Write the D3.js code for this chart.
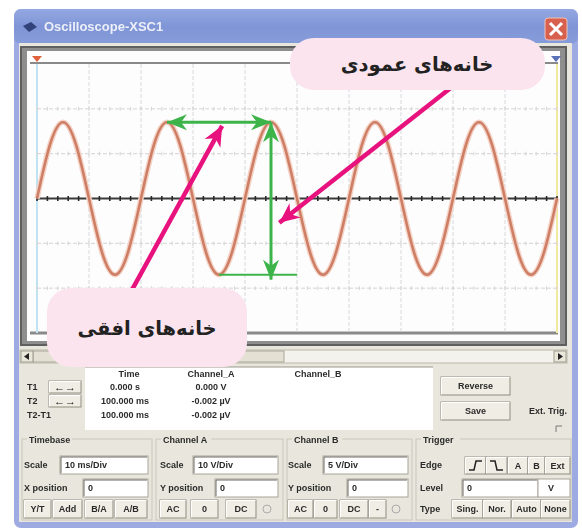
<!DOCTYPE html>
<html><head><meta charset="utf-8">
<script src="https://cdn.jsdelivr.net/npm/d3@7"></script>
<style>html,body{margin:0;padding:0;background:#fff;} svg{display:block;}</style>
</head><body>
<svg id="chart" width="582" height="531"></svg>
<script>
// ---- data ----
const timeMs = [0,2.5,5,7.5,10,12.5,15,17.5,20,22.5,25,27.5,30,32.5,35,37.5,40,42.5,45,47.5,50,52.5,55,57.5,60,62.5,65,67.5,70,72.5,75,77.5,80,82.5,85,87.5,90,92.5,95,97.5,100];
const channelA = [0,12,17,12,0,-12,-17,-12,0,12,17,12,0,-12,-17,-12,0,12,17,12,0,-12,-17,-12,0,12,17,12,0,-12,-17,-12,0,12,17,12,0,-12,-17,-12,0];
const timeTicks = [0,10,20,30,40,50,60,70,80,90,100];
const voltTicks = [-30,-20,-10,0,10,20,30];
const periodSpanMs = [25,45];       // green horizontal arrow (one period)
const periodSpanV = 17;
const ampSpanMs = 45;               // green vertical arrow (peak to trough)
const ampSpanV = [17,-17];
const troughLineMs = [35,50];
const troughLineV = -17;
const pointerHorizontal = [[17.5,-22],[35.6,16.2]];
const pointerVertical = [[81,26],[46.6,-5.4]];
const bubbleLabels = ["خانه\u200cهای عمودی","خانه\u200cهای افقی"];
const windowTitle = "Oscilloscope-XSC1";
const readoutHeaders = ["Time","Channel_A","Channel_B"];
const readoutRowLabels = ["T1","T2","T2-T1"];
const readoutTime = ["0.000 s","100.000 ms","100.000 ms"];
const readoutChA = ["0.000 V","-0.002 µV","-0.002 µV"];
const timebaseScale = "10 ms/Div", xPosition = "0";
const chAScale = "10 V/Div", chAYPos = "0";
const chBScale = "5 V/Div", chBYPos = "0";
const triggerLevel = "0", triggerUnit = "V";

// ---- drawing ----
const svg = d3.select("#chart");
const defs = svg.append("defs");
const tg = defs.append("linearGradient").attr("id","title").attr("x1",0).attr("y1",0).attr("x2",0).attr("y2",1);
tg.append("stop").attr("offset",0).attr("stop-color","#94a8e2");
tg.append("stop").attr("offset",0.5).attr("stop-color","#7f95d6");
tg.append("stop").attr("offset",1).attr("stop-color","#869cda");
defs.append("filter").attr("id","soft").append("feGaussianBlur").attr("stdDeviation",0.45);
function marker(id,color,len,half,notch){
  defs.append("marker").attr("id",id).attr("markerUnits","userSpaceOnUse")
    .attr("viewBox",`${-len-1} ${-half-1} ${len+2} ${2*half+2}`)
    .attr("refX",0).attr("refY",0).attr("markerWidth",len+2).attr("markerHeight",2*half+2)
    .attr("orient","auto-start-reverse")
    .append("path").attr("d",`M0,0 L${-len},${-half} L${-len+notch},0 L${-len},${half} Z`).attr("fill",color);
}
marker("gArrow","#3cb44a",20,8,6);
marker("pArrow","#e8127f",20,9,6);

svg.append("rect").attr("width",582).attr("height",531).attr("fill","#fff");

const ui = svg.append("g").attr("filter","url(#soft)");
// window
ui.append("rect").attr("x",14).attr("y",9).attr("width",564).attr("height",519).attr("rx",7).attr("fill","#9eaae2");
ui.append("rect").attr("x",14).attr("y",9).attr("width",564).attr("height",35).attr("rx",7).attr("fill","url(#title)");
ui.append("rect").attr("x",19).attr("y",43).attr("width",553).attr("height",479).attr("fill","#e9e7dd");
// title
ui.append("path").attr("d","M23,26 L31,22 L37,27 L29,32 Z").attr("fill","#33427a");
ui.append("text").attr("x",44).attr("y",31).attr("fill","#fff").attr("font-family","Liberation Sans, Arial").attr("font-size",13).attr("font-weight","bold").attr("opacity",0.85).text(windowTitle);
ui.append("rect").attr("x",545).attr("y",18).attr("width",22).attr("height",22).attr("rx",3).attr("fill","#d8614f").attr("stroke","#f1c3b8");
ui.append("path").attr("d","M550,23 L562,35 M562,23 L550,35").attr("stroke","#fff").attr("stroke-width",3);

// screen frame
ui.append("rect").attr("x",20).attr("y",46).attr("width",547).attr("height",300).attr("fill","#5f5f5f");
ui.append("rect").attr("x",22).attr("y",48).attr("width",543).attr("height",296).attr("fill","#8e8e8e");
ui.append("rect").attr("x",27).attr("y",51).attr("width",533).attr("height",290).attr("fill","#fdfdfd");

const x = d3.scaleLinear().domain([0,100]).range([37,557]);
const y = d3.scaleLinear().domain([-30,30]).range([333,64]);

// plot borders
ui.append("line").attr("x1",30).attr("x2",558).attr("y1",y(30)-1).attr("y2",y(30)-1).attr("stroke","#8a8a8a").attr("stroke-width",2);
ui.append("line").attr("x1",30).attr("x2",558).attr("y1",y(-30)).attr("y2",y(-30)).attr("stroke","#8a8a8a").attr("stroke-width",3);

// grid
const grid = ui.append("g");
grid.selectAll("line.v").data(timeTicks).join("line")
  .attr("x1",d=>x(d)).attr("x2",d=>x(d)).attr("y1",y(30)).attr("y2",y(-30))
  .attr("stroke",(d,i)=> i===0 ? "#bfe3f2" : (i===timeTicks.length-1 ? "#f1eaa0" : "#d6d8da"))
  .attr("stroke-width",(d,i)=> (i===0||i===timeTicks.length-1)?2:1)
  .attr("stroke-dasharray",(d,i)=> (i===0||i===timeTicks.length-1)?null:"4,2");
grid.selectAll("line.h").data(voltTicks.filter(v=>v!==0 && Math.abs(v)<30)).join("line")
  .attr("x1",x(0)).attr("x2",x(100)).attr("y1",d=>y(d)).attr("y2",d=>y(d))
  .attr("stroke","#d6d3d3").attr("stroke-width",1).attr("stroke-dasharray","4,2");
// minor ticks along grid lines
const minorT = x.ticks(50);
voltTicks.filter(v=>v!==0 && Math.abs(v)<30).forEach(v=>{
  grid.append("g").selectAll("line").data(minorT).join("line")
    .attr("x1",d=>x(d)).attr("x2",d=>x(d)).attr("y1",y(v)-2).attr("y2",y(v)+2)
    .attr("stroke","#d9d6d6");
});

// zero axis
ui.append("line").attr("x1",x(0)).attr("x2",x(100)).attr("y1",y(0)).attr("y2",y(0)).attr("stroke","#3b3b3b").attr("stroke-width",2);
ui.append("g").selectAll("line").data(minorT).join("line")
  .attr("x1",d=>x(d)).attr("x2",d=>x(d)).attr("y1",y(0)-2.5).attr("y2",y(0)+2.5)
  .attr("stroke","#2a2a2a").attr("stroke-width",1.6);

// cursor markers
ui.append("path").attr("d",`M${x(0)-5},56 L${x(0)+5},56 L${x(0)},62 Z`).attr("fill","#e0603c");
ui.append("path").attr("d",`M${x(100)-6},56 L${x(100)+4},56 L${x(100)-1},62 Z`).attr("fill","#5a6fb8");

// waveform
const line = d3.line().x((d,i)=>x(timeMs[i])).y(d=>y(d)).curve(d3.curveNatural);
ui.append("path").datum(channelA).attr("d",line).attr("fill","none").attr("stroke","#f3d3c6").attr("stroke-width",5.5);
ui.append("path").datum(channelA).attr("d",line).attr("fill","none").attr("stroke","#cf7e66").attr("stroke-width",2.6);

// scrollbar
ui.append("rect").attr("x",20).attr("y",350).attr("width",547).attr("height",13).attr("fill","#f3f2ec").attr("stroke","#b9b6aa");
ui.append("rect").attr("x",33).attr("y",351).attr("width",251).attr("height",11).attr("fill","#e4e1d4").attr("stroke","#a9a698");
[[21,"M29,353 L24,356.5 L29,360 Z"],[554,"M558,353 L563,356.5 L558,360 Z"]].forEach(([bx,p])=>{
  ui.append("rect").attr("x",bx).attr("y",351).attr("width",12).attr("height",11).attr("fill","#e9e6da").attr("stroke","#9d9a8d");
  ui.append("path").attr("d",p).attr("fill","#222");
});

// readout panel
const F = "Liberation Sans, Arial, sans-serif";
function label(t,xx,yy,opt={}){
  return ui.append("text").attr("x",xx).attr("y",yy).attr("font-family",F).attr("font-size",opt.size||9)
    .attr("font-weight","bold").attr("fill",opt.fill||"#2b2b2b").attr("text-anchor",opt.anchor||"start").text(t);
}
function button(xx,yy,w,h,t){
  ui.append("rect").attr("x",xx).attr("y",yy).attr("width",w).attr("height",h).attr("fill","#efede4").attr("stroke","#8f8c80");
  ui.append("path").attr("d",`M${xx+0.5},${yy+h-0.5} L${xx+0.5},${yy+0.5} L${xx+w-0.5},${yy+0.5}`).attr("stroke","#fff").attr("fill","none");
  if(t) label(t,xx+w/2,yy+h/2+3.3,{anchor:"middle"});
}
function input(xx,yy,w,h,t){
  ui.append("rect").attr("x",xx).attr("y",yy).attr("width",w).attr("height",h).attr("fill","#fff").attr("stroke","#a8a59a");
  ui.append("path").attr("d",`M${xx+1},${yy+h-1} L${xx+1},${yy+1} L${xx+w-1},${yy+1}`).attr("stroke","#6e6b62").attr("fill","none");
  label(t,xx+5,yy+h/2+3.3);
}
ui.append("rect").attr("x",85).attr("y",367).attr("width",348).attr("height",63).attr("fill","#fff");
ui.append("line").attr("x1",85).attr("x2",433).attr("y1",367).attr("y2",367).attr("stroke","#9a978b");
const rowY = [390,404,418];
readoutHeaders.forEach((h,i)=> label(h,[129,211,318][i],377,{anchor:"middle"}));
readoutRowLabels.forEach((t,i)=>{
  label(t,27,rowY[i]);
  label(readoutTime[i],125,rowY[i],{anchor:"middle"});
  label(readoutChA[i],211,rowY[i],{anchor:"middle"});
  if(i<2){
    button(49,rowY[i]-9,32,12,null);
    label("\u2190\u2192",65,rowY[i]+1,{anchor:"middle",size:11,fill:"#111"});
  }
});
button(441,377,69,18,"Reverse");
button(441,402,69,18,"Save");
label("Ext. Trig.",548,414,{anchor:"middle"});
ui.append("path").attr("d","M556,432 L556,426 L562,426").attr("stroke","#777").attr("fill","none");

// group boxes
[[22,152,"Timebase"],[156,283,"Channel A"],[287,412,"Channel B"],[416,571,"Trigger"]].forEach(([a,b,t])=>{
  ui.append("rect").attr("x",a).attr("y",439).attr("width",b-a).attr("height",81).attr("fill","none").attr("stroke","#c9c6b9");
  ui.append("rect").attr("x",a+5).attr("y",434).attr("width",t.length*5.6).attr("height",10).attr("fill","#e9e7dd");
  label(t,a+7,443);
});
// Timebase
label("Scale",24,468); input(60,456,88,18,timebaseScale);
label("X position",24,491); input(83,479,65,18,xPosition);
[[24,27,"Y/T"],[53,29,"Add"],[85,28,"B/A"],[115,32,"A/B"]].forEach(([bx,w,t])=>button(bx,500,w,18,t));
// Channel A
label("Scale",160,468); input(193,456,85,18,chAScale);
label("Y position",160,491); input(215,479,63,18,chAYPos);
[[160,26,"AC"],[191,27,"0"],[226,30,"DC"]].forEach(([bx,w,t])=>button(bx,500,w,18,t));
ui.append("circle").attr("cx",267).attr("cy",509).attr("r",4).attr("fill","none").attr("stroke","#aaa");
// Channel B
label("Scale",288,468); input(323,456,85,18,chBScale);
label("Y position",288,491); input(347,479,61,18,chBYPos);
[[288,25,"AC"],[314,23,"0"],[340,28,"DC"],[369,17,"-"]].forEach(([bx,w,t])=>button(bx,500,w,18,t));
ui.append("circle").attr("cx",396).attr("cy",509).attr("r",4).attr("fill","none").attr("stroke","#aaa");
// Trigger
label("Edge",420,468);
button(465,457,21,17,null); button(486,457,21,17,null);
ui.append("path").attr("d","M469,470 L474,470 L476,461 L482,461").attr("stroke","#222").attr("stroke-width",1.5).attr("fill","none");
ui.append("path").attr("d","M490,461 L495,461 L497,470 L503,470").attr("stroke","#222").attr("stroke-width",1.5).attr("fill","none");
button(508,457,20,17,"A"); button(528,457,17,17,"B"); button(545,457,25,17,"Ext");
label("Level",420,491); input(462,479,76,18,triggerLevel);
ui.append("rect").attr("x",538).attr("y",479).attr("width",32).attr("height",18).attr("fill","#fff").attr("stroke","#a8a59a");
label(triggerUnit,548,491);
label("Type",420,512);
[[452,31,"Sing."],[483,28,"Nor."],[512,29,"Auto"],[541,29,"None"]].forEach(([bx,w,t])=>button(bx,500,w,18,t));

// ---- annotations ----
const ann = svg.append("g");
ann.append("line").attr("x1",x(periodSpanMs[0])).attr("x2",x(periodSpanMs[1])).attr("y1",y(periodSpanV)).attr("y2",y(periodSpanV))
  .attr("stroke","#3cb44a").attr("stroke-width",3).attr("marker-start","url(#gArrow)").attr("marker-end","url(#gArrow)");
ann.append("line").attr("x1",x(ampSpanMs)).attr("x2",x(ampSpanMs)).attr("y1",y(ampSpanV[0])).attr("y2",y(ampSpanV[1])+5)
  .attr("stroke","#3cb44a").attr("stroke-width",3).attr("marker-start","url(#gArrow)").attr("marker-end","url(#gArrow)");
ann.append("line").attr("x1",x(troughLineMs[0])).attr("x2",x(troughLineMs[1])).attr("y1",y(troughLineV)).attr("y2",y(troughLineV))
  .attr("stroke","#3cb44a").attr("stroke-width",2);
[pointerHorizontal,pointerVertical].forEach(p=>{
  ann.append("line").attr("x1",x(p[0][0])).attr("y1",y(p[0][1])).attr("x2",x(p[1][0])).attr("y2",y(p[1][1]))
    .attr("stroke","#e8127f").attr("stroke-width",4.5).attr("marker-end","url(#pArrow)");
});
const bubbles = [[290,38,255,52,417,71],[47,288,200,79,147,335]];
bubbles.forEach(([bx,by,bw,bh,tx,ty],i)=>{
  ann.append("rect").attr("x",bx).attr("y",by).attr("width",bw).attr("height",bh).attr("rx",24).attr("fill","#fbe4ee");
  ann.append("text").attr("x",tx).attr("y",ty).attr("text-anchor","middle").attr("direction","rtl")
    .attr("font-family","DejaVu Sans").attr("font-weight","bold").attr("font-size",19.5).attr("fill","#222").text(bubbleLabels[i]);
});
</script>
</body></html>
